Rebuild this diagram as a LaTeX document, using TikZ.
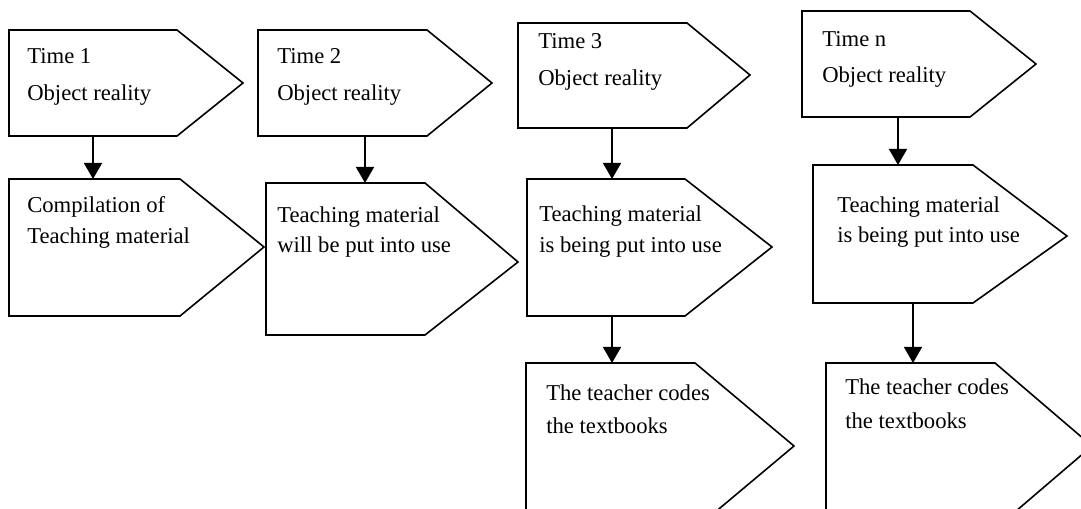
\documentclass[tikz,border=0pt]{standalone}
\usepackage{fontspec}
\setmainfont{Liberation Serif}
\usetikzlibrary{arrows.meta}

\begin{document}
\begin{tikzpicture}[x=0.75pt, y=-0.75pt,
    pent/.style={draw=black, line width=1.2pt, fill=white, line join=miter},
    flow/.style={draw=black, line width=1.2pt, -{Triangle[width=13.5pt, length=12pt]}},
    lbl/.style={anchor=base west, inner sep=0pt, font=\fontsize{17pt}{20pt}\selectfont}]
    % Frame
    \useasboundingbox (0,0) rectangle (1081,509);
    \clip (0,0) rectangle (1081,509);

    % Pentagon boxes: left/top/flat end/tip/bottom/tip height
    \foreach \l/\t/\f/\p/\b/\m in {
        9/30/177/243/136/83,
        258/30/427/492/136/83,
        518/23/687/750/128/75,
        802/11/970/1036/117/64,
        9/179/180/264/316/247,
        266/183/425/518/335/262,
        527/179/685/772/316/247,
        813/165/973/1067/303/236,
        526/363/695/794/529/446,
        826/363/995/1092/529/446
    } {
        \draw[pent] (\l,\t) -- (\f,\t) -- (\p,\m) -- (\f,\b) -- (\l,\b) -- cycle;
    }

    % Labels
    \foreach \n/\x/\ya/\yb/\la/\lb in {
        time1/27/64/101/Time 1/Object reality,
        time2/277/64/101/Time 2/Object reality,
        time3/538/49/86/Time 3/Object reality,
        timen/822/47/83/Time n/Object reality,
        compile/27/213/244/Compilation of/Teaching material,
        willuse/277/223/253/Teaching material/will be put into use,
        inuse3/539/222/253/Teaching material/is being put into use,
        inusen/837/213/243/Teaching material/is being put into use,
        codes3/546/400/433/The teacher codes/the textbooks,
        codesn/845/394/428/The teacher codes/the textbooks
    } {
        \node[lbl] (\n-1) at (\x,\ya) {\la};
        \node[lbl] (\n-2) at (\x,\yb) {\lb};
    }

    % Connectors
    \foreach \n/\x/\ya/\yb in {
        c1/93/136/179,
        c2/365/136/183,
        c3/612/128/179,
        c4/898/117/165,
        c5/612/316/363,
        c6/913/303/363
    } {
        \coordinate (\n-from) at (\x,\ya);
        \coordinate (\n-to) at (\x,\yb);
        \draw[flow] (\n-from) -- (\n-to);
    }
\end{tikzpicture}
\end{document}
